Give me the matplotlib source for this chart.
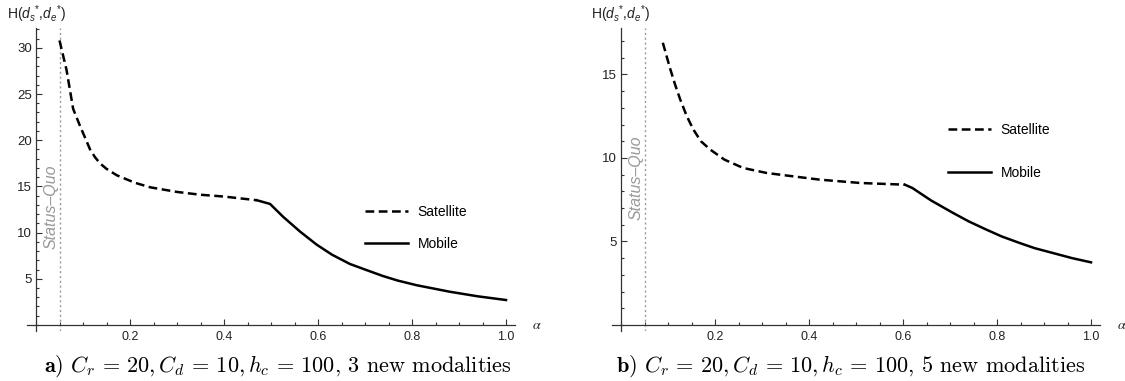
import matplotlib
matplotlib.use("Agg")
import matplotlib.pyplot as plt
from matplotlib.ticker import FixedLocator, MultipleLocator

plt.rcParams["font.family"] = ["Liberation Sans", "DejaVu Sans"]
plt.rcParams["mathtext.fontset"] = "custom"
plt.rcParams["mathtext.rm"] = "Liberation Sans"
plt.rcParams["mathtext.it"] = "Liberation Sans:italic"
plt.rcParams["mathtext.bf"] = "Liberation Sans:bold"

# panel a) 3 new modalities
sat_a_alpha = [0.05, 0.065, 0.079, 0.094, 0.105, 0.115, 0.125, 0.136, 0.15,
               0.172, 0.21, 0.243, 0.30, 0.349, 0.40, 0.47]
sat_a_h = [30.8, 27.6, 23.4, 21.5, 20.2, 19.0, 18.2, 17.5, 16.9,
           16.2, 15.4, 14.9, 14.4, 14.1, 13.9, 13.5]
mob_a_alpha = [0.47, 0.498, 0.526, 0.562, 0.597, 0.63, 0.668, 0.70, 0.738,
               0.77, 0.81, 0.88, 0.94, 1.0]
mob_a_h = [13.5, 13.1, 11.7, 10.1, 8.7, 7.6, 6.6, 6.0, 5.3,
           4.8, 4.3, 3.6, 3.1, 2.7]

# panel b) 5 new modalities
sat_b_alpha = [0.089, 0.104, 0.115, 0.126, 0.14, 0.154, 0.17, 0.19, 0.22,
               0.26, 0.31, 0.366, 0.423, 0.51, 0.604]
sat_b_h = [16.9, 15.4, 14.4, 13.5, 12.5, 11.7, 11.0, 10.5, 9.9,
           9.4, 9.1, 8.9, 8.7, 8.5, 8.4]
mob_b_alpha = [0.604, 0.62, 0.66, 0.707, 0.74, 0.778, 0.81, 0.849, 0.88,
               0.92, 0.96, 1.0]
mob_b_h = [8.4, 8.2, 7.45, 6.7, 6.2, 5.7, 5.3, 4.9, 4.6, 4.3, 4.0, 3.75]

status_quo = 0.05
x_major = [0.2, 0.4, 0.6, 0.8, 1.0]
x_labels = ["0.2", "0.4", "0.6", "0.8", "1.0"]

W, H = 1125, 381
fig = plt.figure(figsize=(W / 100, H / 100), dpi=100)

axis_col = "#333333"


def make_panel(rect, ylim, y_major, sat_x, sat_y, mob_x, mob_y,
               sq_y, leg_xy, leg_space, ylab_x):
    ax = fig.add_axes(rect)
    ax.set_xlim(-0.02, 1.02)
    ax.set_ylim(*ylim)
    for s in ["top", "right"]:
        ax.spines[s].set_visible(False)
    ax.spines["left"].set_position(("data", 0))
    ax.spines["bottom"].set_position(("data", 0))
    for s in ["left", "bottom"]:
        ax.spines[s].set_color(axis_col)
        ax.spines[s].set_linewidth(0.9)

    ax.xaxis.set_major_locator(FixedLocator(x_major))
    ax.set_xticklabels(x_labels)
    ax.xaxis.set_minor_locator(MultipleLocator(0.05))
    ax.yaxis.set_major_locator(FixedLocator(y_major))
    ax.set_yticklabels([str(v) for v in y_major])
    ax.yaxis.set_minor_locator(MultipleLocator(1))
    ax.tick_params(which="both", direction="in", color=axis_col, width=0.8)
    ax.tick_params(which="major", length=4.5)
    ax.tick_params(which="minor", length=2.5)
    ax.tick_params(axis="x", labelsize=9, pad=4, labelcolor="#222222")
    ax.tick_params(axis="y", labelsize=9.5, pad=3, labelcolor="#222222")

    # status quo reference line
    ax.axvline(status_quo, color="#9a9a9a", lw=1, ls=(0, (1.5, 2)))
    ax.text(status_quo - 0.003, sq_y, "Status\u2013Quo", rotation=90,
            color="#999999", style="italic", fontsize=11.5,
            ha="right", va="center")

    ax.plot(sat_x, sat_y, color="black", lw=1.8, dashes=(3.5, 1.8),
            label="Satellite")
    ax.plot(mob_x, mob_y, color="black", lw=1.8, label="Mobile")

    ax.legend(loc="upper left", bbox_to_anchor=leg_xy,
              bbox_transform=fig.transFigure, frameon=False, fontsize=10,
              handlelength=3.1, handletextpad=0.7, labelspacing=leg_space,
              borderpad=0, borderaxespad=0)

    ax.text(1.055, 0, r"$\alpha$", fontsize=10, ha="left", va="center",
            math_fontfamily="stix", color="#222222")

    fig.text(ylab_x / W, 1 - 14 / H, r"H($d_s{}^{*}$,$d_e{}^{*}$)",
             fontsize=10, ha="left", va="center", color="#222222")
    return ax


ax1 = make_panel([26.6 / W, (H - 330.5) / H, 488.8 / W, 303.0 / H],
                 (-0.6, 32.2), [5, 10, 15, 20, 25, 30],
                 sat_a_alpha, sat_a_h, mob_a_alpha, mob_a_h,
                 12.8, (365 / W, 1 - 205 / H), 1.3, 7)

ax2 = make_panel([611.6 / W, (H - 330.8) / H, 488.8 / W, 303.1 / H],
                 (-0.35, 17.8), [5, 10, 15],
                 sat_b_alpha, sat_b_h, mob_b_alpha, mob_b_h,
                 8.8, (948 / W, 1 - 123 / H), 2.1, 591)

params = r"$C_r\,=\,20, C_d\,=\,10, h_c\,=\,100$"
cap_a = r"$\mathbf{a)}$ " + params + ", 3 new modalities"
cap_b = r"$\mathbf{b)}$ " + params + ", 5 new modalities"
fig.text(278 / W, 1 - 366 / H, cap_a, fontsize=16, family="cmr10",
         math_fontfamily="cm", ha="center", va="center")
fig.text(851 / W, 1 - 366 / H, cap_b, fontsize=16, family="cmr10",
         math_fontfamily="cm", ha="center", va="center")

fig.savefig("out.png", dpi=100)
